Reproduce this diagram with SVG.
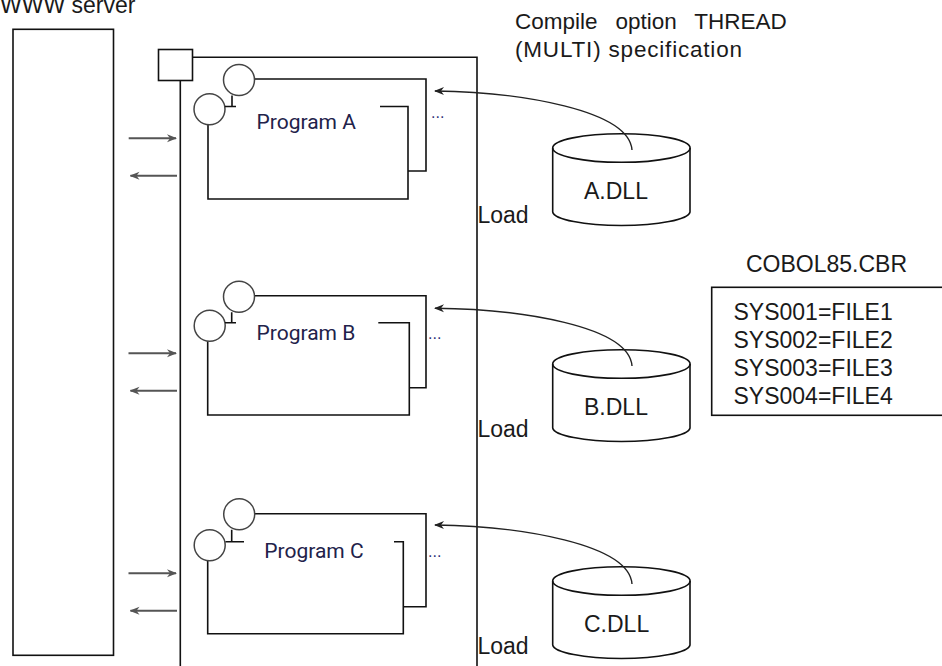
<svg xmlns="http://www.w3.org/2000/svg" width="942" height="666" viewBox="0 0 942 666">
  <style>
    .ln { fill: none; stroke: #111; stroke-width: 1.6; }
    .circ { fill: #fff; stroke: #444; stroke-width: 1.5; }
    .t { font-family: "Liberation Sans", Arial, sans-serif; font-size: 23px; fill: #1a1a1a; }
    .prog { font-family: Roboto, "Liberation Sans", sans-serif; font-size: 21px; fill: #22224a; }
    .dots { font-family: "Liberation Sans", Arial, sans-serif; font-size: 16px; fill: #33337a; }
    .io { fill: none; stroke: #555; stroke-width: 2; }
    .load { fill: none; stroke: #222; stroke-width: 1.4; }
  </style>
  <defs>
    <marker id="ioHead" viewBox="0 0 10 10" refX="9" refY="5" markerWidth="10" markerHeight="10" markerUnits="userSpaceOnUse" orient="auto">
      <path d="M0,1 L10,5 L0,9 L3,5 z" fill="#555"/>
    </marker>
    <marker id="loadHead" viewBox="0 0 10 10" refX="9" refY="5" markerWidth="11" markerHeight="10" markerUnits="userSpaceOnUse" orient="auto">
      <path d="M0,1 L10,5 L0,9 L3,5 z" fill="#222"/>
    </marker>
  </defs>
  <rect width="942" height="666" fill="#fff"/>

  <g id="www-server">
    <text class="t" x="0" y="12.7">WWW server</text>
    <rect class="ln" x="13" y="29.3" width="100.5" height="626"/>
  </g>

  <g id="compile-note">
    <text class="t" x="515" y="29" style="font-size:22.5px" word-spacing="11.7">Compile option THREAD</text>
    <text class="t" x="515" y="56.7" style="font-size:22.5px" textLength="227" lengthAdjust="spacing">(MULTI) specification</text>
  </g>

  <g id="process">
    <rect class="ln" x="158.5" y="49.5" width="34" height="31"/>
    <path class="ln" d="M192.5,57.3 H477 V666 M180.3,80.5 V666"/>
  </g>

  <g id="program-a">
    <path class="ln" d="M255,79 H426 V171 H408"/>
    <path class="ln" d="M380,106.5 H408 V199 H208 V124.8"/>
    <circle class="circ" cx="239" cy="80" r="15.5"/>
    <circle class="circ" cx="209.5" cy="109.3" r="15.5"/>
    <path class="ln" d="M232,95.5 V106.5 M225,106.5 H236"/>
    <text class="prog" x="256.5" y="129.3">Program A</text>
    <text class="dots" x="431" y="118">...</text>
  </g>

  <g id="program-b">
    <path class="ln" d="M255,295.7 H426 V387.7 H409.3"/>
    <path class="ln" d="M378.3,322.7 H409.3 V415 H207.7 V341.3"/>
    <circle class="circ" cx="239" cy="296.7" r="15.5"/>
    <circle class="circ" cx="209.7" cy="325.8" r="15.5"/>
    <path class="ln" d="M231.7,312.2 V322.7 M225,322.7 H236"/>
    <text class="prog" x="256.5" y="339.5">Program B</text>
    <text class="dots" x="428" y="339">...</text>
  </g>

  <g id="program-c">
    <path class="ln" d="M255,513.7 H426 V606.7 H403.3"/>
    <path class="ln" d="M394,541.7 H403.3 V633.7 H207.7 V560.7"/>
    <circle class="circ" cx="239.2" cy="514.3" r="15.5"/>
    <circle class="circ" cx="209.7" cy="545.2" r="15.5"/>
    <path class="ln" d="M231.7,529.8 V541.7 M225.5,541.7 H244"/>
    <text class="prog" x="264.3" y="557.5">Program C</text>
    <text class="dots" x="428" y="557">...</text>
  </g>

  <g id="dll-a">
    <path class="ln" d="M552.7,148 V212 A68.7,14 0 0 0 690,212 V148"/>
    <ellipse class="ln" cx="621.4" cy="148" rx="68.7" ry="14.3"/>
    <text class="t" x="584" y="199">A.DLL</text>
  </g>
  <g id="dll-b">
    <path class="ln" d="M552.7,364 V428 A68.7,14 0 0 0 690,428 V364"/>
    <ellipse class="ln" cx="621.4" cy="364" rx="68.7" ry="14.3"/>
    <text class="t" x="584" y="415">B.DLL</text>
  </g>
  <g id="dll-c">
    <path class="ln" d="M552.7,581 V645 A68.7,14 0 0 0 690,645 V581"/>
    <ellipse class="ln" cx="621.4" cy="581" rx="68.7" ry="14.3"/>
    <text class="t" x="584" y="632">C.DLL</text>
  </g>

  <g id="cobol85-cbr">
    <text class="t" x="746" y="272">COBOL85.CBR</text>
    <rect class="ln" x="711.7" y="287.3" width="250" height="128"/>
    <text class="t" x="733.5" y="320">SYS001=FILE1</text>
    <text class="t" x="733.5" y="348">SYS002=FILE2</text>
    <text class="t" x="733.5" y="376">SYS003=FILE3</text>
    <text class="t" x="733.5" y="404">SYS004=FILE4</text>
  </g>

  <g id="load-labels">
    <text class="t" x="477.5" y="222.7">Load</text>
    <text class="t" x="477.5" y="436.7">Load</text>
    <text class="t" x="477.5" y="653.7">Load</text>
  </g>

  <g id="connectors">
    <path class="io" d="M128.7,138.3 H176" marker-end="url(#ioHead)"/>
    <path class="io" d="M177,175.7 H130.5" marker-end="url(#ioHead)"/>
    <path class="io" d="M128.5,353.3 H176" marker-end="url(#ioHead)"/>
    <path class="io" d="M177,390.7 H130.5" marker-end="url(#ioHead)"/>
    <path class="io" d="M128.5,573.3 H176" marker-end="url(#ioHead)"/>
    <path class="io" d="M177,610.7 H130.5" marker-end="url(#ioHead)"/>
    <path class="load" d="M632,150 C629,110 520,92 435,91" marker-end="url(#loadHead)"/>
    <path class="load" d="M632,366 C629,326 520,309 435,308.3" marker-end="url(#loadHead)"/>
    <path class="load" d="M632,584 C629,544 520,526 435,525" marker-end="url(#loadHead)"/>
  </g>
</svg>
